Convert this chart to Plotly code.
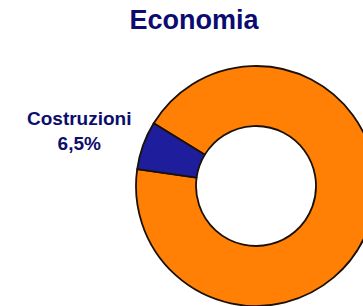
import plotly.graph_objects as go

# Data
labels = ["Altro", "Costruzioni"]
values = [93.5, 6.5]
colors = ["#FF8005", "#1E1E9C"]
title_text = "Economia"
label_index = 1

W, H = 380, 306

fig = go.Figure()
fig.add_trace(go.Pie(
    labels=labels,
    values=values,
    hole=0.5,
    sort=False,
    direction="counterclockwise",
    rotation=-58.5,
    marker=dict(colors=colors, line=dict(color="#1a1008", width=1.8)),
    textinfo="none",
    hoverinfo="label+percent",
    showlegend=False,
    domain=dict(x=[136 / W, 376 / W], y=[0, 240 / H]),
))

lab = labels[label_index]
val = ("%.1f" % values[label_index]).replace(".", ",")
fig.add_annotation(
    text=f"{lab}<br>{val}%",
    x=79 / W, y=1 - 131 / H, xref="paper", yref="paper",
    xanchor="center", yanchor="middle", showarrow=False,
    font=dict(family="Liberation Sans, Arial, sans-serif", size=19, color="#0D0D6B", weight=700),
)

fig.update_layout(
    width=W, height=H,
    margin=dict(l=0, r=0, t=0, b=0),
    paper_bgcolor="white", plot_bgcolor="white",
    title=dict(text=title_text, x=194 / W, y=1 - 20 / H, xanchor="center", yanchor="middle",
               font=dict(family="Liberation Sans, Arial, sans-serif", size=27, color="#0B0B70", weight=700)),
)

fig.write_html("out.html", config={"displayModeBar": False},
               post_script="document.body.style.margin='0';document.body.style.overflow='hidden';")
